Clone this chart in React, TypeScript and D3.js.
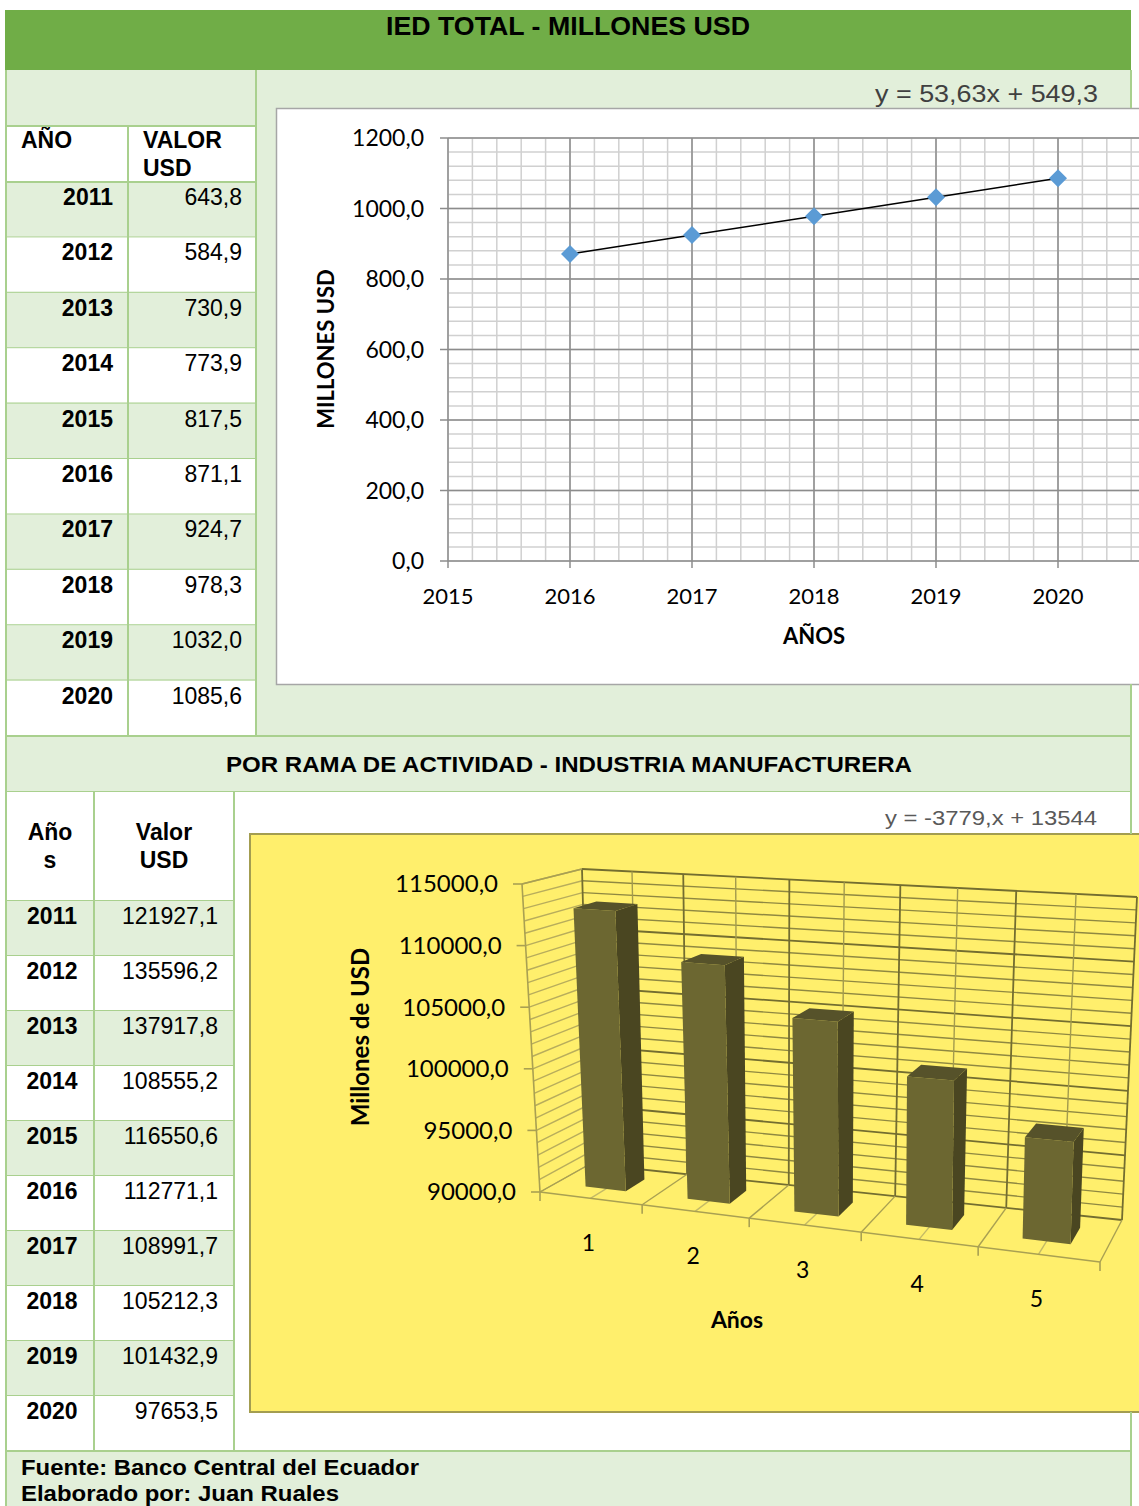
import React from 'react';
import * as d3 from 'd3';

const W = 1139;
const H = 1506;

// data
const iedYears = [2011, 2012, 2013, 2014, 2015, 2016, 2017, 2018, 2019, 2020];
const iedValues = [643.8, 584.9, 730.9, 773.9, 817.5, 871.1, 924.7, 978.3, 1032.0, 1085.6];
const trendYears = [2016, 2017, 2018, 2019, 2020];
const trendValues = [871.1, 924.7, 978.3, 1032.0, 1085.6];
const lineYTicks = [0, 200, 400, 600, 800, 1000, 1200];
const lineXTicks = [2015, 2016, 2017, 2018, 2019, 2020];

const manuYears = [2011, 2012, 2013, 2014, 2015, 2016, 2017, 2018, 2019, 2020];
const manuValues = [121927.1, 135596.2, 137917.8, 108555.2, 116550.6, 112771.1, 108991.7, 105212.3, 101432.9, 97653.5];
const barCats = ['1', '2', '3', '4', '5'];
const barValues = [112771.1, 108991.7, 105212.3, 101432.9, 97653.5];
const barYTicks = [90000, 95000, 100000, 105000, 110000, 115000];

const GREEN = '#70AD47';
const LIGHT = '#E2EFDA';
const BORDER = '#A9D08E';
const ARIAL = '"Liberation Sans", Arial, sans-serif';
const CALIBRI = 'Lato, "Open Sans", sans-serif';

const fmt = (v: number) => d3.format('.1f')(v).replace('.', ',');

// ---- line chart scales
const x1 = d3.scaleLinear().domain([2015, 2021]).range([448, 1180]);
const y1 = d3.scaleLinear().domain([0, 1200]).range([561, 138]);
const minorX = d3.range(0, 31).map(i => 2015 + i * 0.2);
const minorY = d3.range(0, 31).map(i => i * 40);

// ---- 3d bar chart projection
type Pt = [number, number];
const C: Record<string, Pt> = {
  flb: [540, 1192], flt: [522, 884],
  blb: [590, 1164], blt: [582, 869],
  frb: [1100, 1262], frt: [1110, 920],
  brb: [1122, 1220], brt: [1137, 897],
};
const lerp = (a: Pt, b: Pt, t: number): Pt => [a[0] + (b[0] - a[0]) * t, a[1] + (b[1] - a[1]) * t];
const warp = (u: number) => u * 0.89 + 0.11 * u * u;
const vScale = d3.scaleLinear().domain([90000, 115000]).range([0, 1]);
const uBand = d3.scaleBand<string>().domain(barCats).range([0, 1]).paddingInner(0.6).paddingOuter(0.3);
const W0 = 0.32;
const W1 = 0.72;

function proj(u: number, v: number, w: number): Pt {
  const uu = warp(u);
  const fb = lerp(C.flb, C.frb, uu);
  const ft = lerp(C.flt, C.frt, uu);
  const bb = lerp(C.blb, C.brb, uu);
  const bt = lerp(C.blt, C.brt, uu);
  return lerp(lerp(fb, ft, v), lerp(bb, bt, v), w);
}
const poly = (pts: Pt[]) => 'M' + pts.map(p => p[0].toFixed(1) + ',' + p[1].toFixed(1)).join('L') + 'Z';
const seg = (a: Pt, b: Pt) => `M${a[0]},${a[1]}L${b[0]},${b[1]}`;

const minorV = d3.range(90000, 115001, 1000);
const uLines = d3.range(0, 11).map(i => i / 10);

function Table({ x0, x1c, x2, top, rowH, years, values, yearX, yearAnchor, valX }: any) {
  return (
    <g>
      {years.map((yr: number, i: number) => {
        const y = top + i * rowH;
        return (
          <g key={yr}>
            <rect x={x0} y={y} width={x2 - x0} height={rowH} fill={i % 2 === 0 ? LIGHT : '#fff'} />
            <text x={yearX} y={y + 23} fontFamily={ARIAL} fontWeight="bold" fontSize={23} textAnchor={yearAnchor}>{yr}</text>
            <text x={valX} y={y + 23} fontFamily={ARIAL} fontSize={23} textAnchor="end">{fmt(values[i])}</text>
            <line x1={x0} x2={x2} y1={y + rowH} y2={y + rowH} stroke={BORDER} strokeWidth={2} />
          </g>
        );
      })}
      <line x1={x1c} x2={x1c} y1={top} y2={top + rowH * years.length} stroke={BORDER} strokeWidth={2} />
    </g>
  );
}

export default function App() {
  const linePath = d3.line<number>().x((d, i) => x1(trendYears[i])).y(d => y1(d))(trendValues) || '';

  return (
    <svg width={W} height={H} style={{ position: 'absolute', left: 0, top: 0, background: '#fff' }}>
      <defs>
        <clipPath id="clip1"><rect x={277} y={109} width={900} height={575} /></clipPath>
      </defs>

      {/* header */}
      <rect x={5} y={10} width={1126} height={60} fill={GREEN} />
      <text x={386} y={35} fontFamily={ARIAL} fontWeight="bold" fontSize={25} textLength={364} lengthAdjust="spacingAndGlyphs">IED TOTAL - MILLONES USD</text>

      {/* top section backgrounds */}
      <rect x={6} y={70} width={1125} height={666} fill={LIGHT} />
      <rect x={6} y={126} width={250} height={56} fill="#fff" />
      <text x={21} y={148} fontFamily={ARIAL} fontWeight="bold" fontSize={23}>AÑO</text>
      <text x={143} y={148} fontFamily={ARIAL} fontWeight="bold" fontSize={23}>VALOR</text>
      <text x={143} y={176} fontFamily={ARIAL} fontWeight="bold" fontSize={23}>USD</text>
      <Table x0={6} x1c={128} x2={256} top={182} rowH={55.4} years={iedYears} values={iedValues}
        yearX={113} yearAnchor="end" valX={242} />
      <line x1={6} x2={256} y1={126} y2={126} stroke={BORDER} strokeWidth={2} />
      <line x1={6} x2={256} y1={182} y2={182} stroke={BORDER} strokeWidth={2} />
      <line x1={128} x2={128} y1={126} y2={182} stroke={BORDER} strokeWidth={2} />
      <line x1={256} x2={256} y1={70} y2={736} stroke={BORDER} strokeWidth={2} />

      <text x={875} y={102} fontFamily={ARIAL} fontSize={24} fill="#404040" textLength={223} lengthAdjust="spacingAndGlyphs">y = 53,63x + 549,3</text>

      {/* line chart */}
      <rect x={276.5} y={108.5} width={900} height={576} fill="#fff" stroke="#A6A6A6" strokeWidth={1.5} />
      <g clipPath="url(#clip1)">
        {minorX.map((d, i) => (
          <line key={'mx' + i} x1={x1(d)} x2={x1(d)} y1={y1(1200)} y2={y1(0)} stroke="#D0D0D0" strokeWidth={1.5} />
        ))}
        {minorY.map((d, i) => (
          <line key={'my' + i} x1={x1(2015)} x2={1180} y1={y1(d)} y2={y1(d)} stroke="#D0D0D0" strokeWidth={1.5} />
        ))}
        {lineXTicks.concat([2021]).map(d => (
          <line key={'Mx' + d} x1={x1(d)} x2={x1(d)} y1={y1(1200)} y2={y1(0) + 7} stroke="#8C8C8C" strokeWidth={1.5} />
        ))}
        {lineYTicks.map(d => (
          <line key={'My' + d} x1={x1(2015) - 8} x2={1180} y1={y1(d)} y2={y1(d)} stroke="#8C8C8C" strokeWidth={1.5} />
        ))}
        <path d={linePath} fill="none" stroke="#000" strokeWidth={1.5} />
        {trendValues.map((v, i) => {
          const cx = x1(trendYears[i]);
          const cy = y1(v);
          const r = 9;
          return <path key={'pt' + i} d={`M${cx},${cy - r}L${cx + r},${cy}L${cx},${cy + r}L${cx - r},${cy}Z`} fill="#5B9BD5" />;
        })}
      </g>
      {lineYTicks.map(d => (
        <text key={'yl' + d} x={424} y={y1(d)} dy="0.35em" textAnchor="end" fontFamily={CALIBRI} fontSize={23}>{fmt(d)}</text>
      ))}
      {lineXTicks.map(d => (
        <text key={'xl' + d} x={x1(d)} y={604} textAnchor="middle" fontFamily={CALIBRI} fontSize={22}>{d}</text>
      ))}
      <text x={814} y={644} textAnchor="middle" fontFamily={CALIBRI} fontWeight="bold" fontSize={22}>AÑOS</text>
      <text transform="translate(334,349) rotate(-90)" textAnchor="middle" fontFamily={CALIBRI} fontWeight="bold" fontSize={22}>MILLONES USD</text>

      {/* middle header */}
      <rect x={6} y={736} width={1125} height={56} fill={LIGHT} />
      <line x1={6} x2={1131} y1={736} y2={736} stroke={BORDER} strokeWidth={2} />
      <text x={226} y={772} fontFamily={ARIAL} fontWeight="bold" fontSize={22} textLength={686} lengthAdjust="spacingAndGlyphs">POR RAMA DE ACTIVIDAD - INDUSTRIA MANUFACTURERA</text>
      <line x1={6} x2={1131} y1={792} y2={792} stroke={BORDER} strokeWidth={2} />

      {/* bottom table */}
      <rect x={6} y={792} width={1125} height={659} fill="#fff" />
      <text x={50} y={840} textAnchor="middle" fontFamily={ARIAL} fontWeight="bold" fontSize={23}>Año</text>
      <text x={50} y={868} textAnchor="middle" fontFamily={ARIAL} fontWeight="bold" fontSize={23}>s</text>
      <text x={164} y={840} textAnchor="middle" fontFamily={ARIAL} fontWeight="bold" fontSize={23}>Valor</text>
      <text x={164} y={868} textAnchor="middle" fontFamily={ARIAL} fontWeight="bold" fontSize={23}>USD</text>
      <line x1={6} x2={234} y1={901} y2={901} stroke={BORDER} strokeWidth={2} />
      <Table x0={6} x1c={94} x2={234} top={901} rowH={55} years={manuYears} values={manuValues}
        yearX={52} yearAnchor="middle" valX={218} />
      <line x1={94} x2={94} y1={792} y2={901} stroke={BORDER} strokeWidth={2} />
      <line x1={234} x2={234} y1={792} y2={1451} stroke={BORDER} strokeWidth={2} />

      <text x={885} y={825} fontFamily={ARIAL} fontSize={21} fill="#595959" textLength={212} lengthAdjust="spacingAndGlyphs">y = -3779,x + 13544</text>

      {/* 3d bar chart */}
      <rect x={250} y={834} width={900} height={578} fill="#FFEF6C" stroke="#A39D50" strokeWidth={2} />
      {/* left wall */}
      {minorV.map(v => (
        <path key={'lw' + v} d={seg(proj(0, vScale(v), 0), proj(0, vScale(v), 1))} stroke="#B8AD5C" strokeWidth={1.4} fill="none" />
      ))}
      {/* back wall */}
      {minorV.map(v => (
        <path key={'bw' + v} d={seg(proj(0, vScale(v), 1), proj(1, vScale(v), 1))}
          stroke={v % 5000 === 0 ? '#736D30' : '#8F8841'} strokeWidth={v % 5000 === 0 ? 1.8 : 1.4} fill="none" />
      ))}
      {uLines.map((u, i) => (
        <path key={'bv' + i} d={seg(proj(u, 0, 1), proj(u, 1, 1))}
          stroke={i % 2 === 0 ? '#736D30' : '#A39B4D'} strokeWidth={i % 2 === 0 ? 1.8 : 1.4} fill="none" />
      ))}
      {/* floor */}
      {uLines.map((u, i) => (
        <path key={'fl' + i} d={seg(proj(u, 0, 0), proj(u, 0, 1))}
          stroke={i % 2 === 0 ? '#A9A052' : '#C4BA66'} strokeWidth={1.4} fill="none" />
      ))}
      <path d={seg(proj(0, 0, 0), proj(1, 0, 0))} stroke="#A9A052" strokeWidth={1.6} fill="none" />
      <path d={seg(proj(0, 0, 0), proj(0, 1, 0))} stroke="#A9A052" strokeWidth={1.6} fill="none" />
      <path d={seg(proj(0, 1, 0), proj(0, 1, 1))} stroke="#A9A052" strokeWidth={1.6} fill="none" />
      {d3.range(0, 6).map(i => {
        const p = proj(i / 5, 0, 0);
        return <path key={'ft' + i} d={seg(p, [p[0], p[1] + 9])} stroke="#A9A052" strokeWidth={1.6} />;
      })}
      {barYTicks.map(v => {
        const p = proj(0, vScale(v), 0);
        return (
          <g key={'by' + v}>
            <path d={seg([p[0] - 9, p[1]], p)} stroke="#A9A052" strokeWidth={1.6} />
            <text x={p[0] - 24} y={p[1]} dy="0.35em" textAnchor="end" fontFamily={CALIBRI} fontSize={24}>{fmt(v)}</text>
          </g>
        );
      })}
      {/* bars */}
      {barCats.map((c, i) => {
        const ua = uBand(c)!;
        const ub = ua + uBand.bandwidth();
        const v = vScale(barValues[i]);
        const front = poly([proj(ua, 0, W0), proj(ub, 0, W0), proj(ub, v, W0), proj(ua, v, W0)]);
        const side = poly([proj(ub, 0, W0), proj(ub, 0, W1), proj(ub, v, W1), proj(ub, v, W0)]);
        const topF = poly([proj(ua, v, W0), proj(ub, v, W0), proj(ub, v, W1), proj(ua, v, W1)]);
        return (
          <g key={'bar' + c}>
            <path d={side} fill="#4A4621" />
            <path d={front} fill="#6C6731" />
            <path d={topF} fill="#56522A" />
          </g>
        );
      })}
      {barCats.map(c => {
        const p = proj(uBand(c)! + uBand.bandwidth() / 2, 0, 0);
        return <text key={'bl' + c} x={p[0] - 2} y={p[1] + 45} dy="0.35em" textAnchor="middle" fontFamily={CALIBRI} fontSize={23}>{c}</text>;
      })}
      <text x={737} y={1328} textAnchor="middle" fontFamily={CALIBRI} fontWeight="bold" fontSize={23}>Años</text>
      <text transform="translate(369,1037) rotate(-90)" textAnchor="middle" fontFamily={CALIBRI} fontWeight="bold" fontSize={24}>Millones de USD</text>

      {/* footer */}
      <rect x={6} y={1451} width={1125} height={55} fill={LIGHT} />
      <line x1={6} x2={1131} y1={1451} y2={1451} stroke={BORDER} strokeWidth={2} />
      <text x={21} y={1475} fontFamily={ARIAL} fontWeight="bold" fontSize={22} textLength={398} lengthAdjust="spacingAndGlyphs">Fuente: Banco Central del Ecuador</text>
      <text x={21} y={1501} fontFamily={ARIAL} fontWeight="bold" fontSize={22} textLength={318} lengthAdjust="spacingAndGlyphs">Elaborado por: Juan Ruales</text>

      {/* outer borders */}
      <line x1={6} x2={6} y1={70} y2={1506} stroke={BORDER} strokeWidth={2} />
      <line x1={1131} x2={1131} y1={70} y2={108} stroke={BORDER} strokeWidth={2} />
      <line x1={1131} x2={1131} y1={684} y2={834} stroke={BORDER} strokeWidth={2} />
      <line x1={1131} x2={1131} y1={1412} y2={1506} stroke={BORDER} strokeWidth={2} />
    </svg>
  );
}
